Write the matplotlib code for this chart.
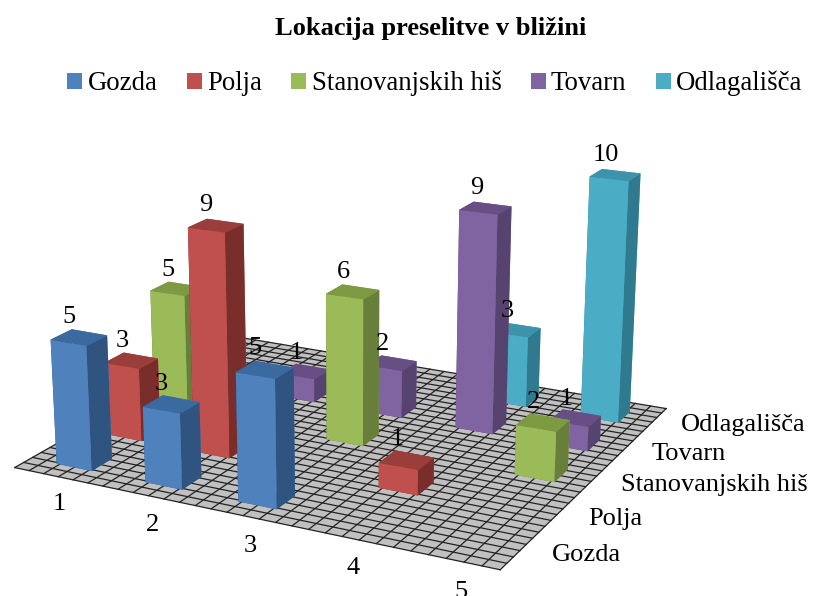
import numpy as np
import matplotlib
matplotlib.use("Agg")
import matplotlib.pyplot as plt
from matplotlib.patches import Patch

plt.rcParams['font.family'] = ['Liberation Serif', 'DejaVu Serif']

categories = ['1', '2', '3', '4', '5']
series = ['Gozda', 'Polja', 'Stanovanjskih hiš', 'Tovarn', 'Odlagališča']
gozda = [5, 3, 5, None, None]
polja = [3, 9, None, 1, None]
stanovanjskih = [5, None, 6, None, 2]
tovarn = [None, 1, 2, 9, 1]
odlagalisca = [None, None, None, 3, 10]
values = [gozda, polja, stanovanjskih, tovarn, odlagalisca]

front = ['#4F81BD', '#C0504D', '#9BBB59', '#8064A2', '#4BACC6']
side = ['#2F5480', '#7A2E2C', '#687F3B', '#57436F', '#2F7A8E']
top = ['#3A6AA0', '#9A3E3B', '#7D9A42', '#674F86', '#3C93AB']

fig = plt.figure(figsize=(8.13, 5.96), dpi=100)
ax = fig.add_axes([-0.18, -0.25, 1.2, 1.4], projection='3d')
ax.computed_zorder = False
ax.set_proj_type('persp', focal_length=0.45)
ax.view_init(elev=18, azim=-63)
ax.set_xlim(0.5, 5.5)
ax.set_ylim(0.5, 5.5)
ax.set_zlim(0, 10)
ax.set_box_aspect((1.5, 1.3, 0.75), zoom=0.85)
ax.set_axis_off()

# floor
gx = np.linspace(0.5, 5.5, 31)
gy = np.linspace(0.5, 5.5, 31)
X, Y = np.meshgrid([0.5, 5.5], [0.5, 5.5])
ax.plot_surface(X, Y, np.zeros_like(X), color='#C0C0C0', shade=False, zorder=1)
for v in gx:
    ax.plot([v, v], [0.5, 5.5], [0, 0], color='#222222', lw=0.9, zorder=2)
for v in gy:
    ax.plot([0.5, 5.5], [v, v], [0, 0], color='#222222', lw=0.9, zorder=2)

w = 0.4
z = 3
for r in range(4, -1, -1):
    for c in range(5):
        v = values[r][c]
        if v is None:
            continue
        x0 = c + 1 - w / 2
        y0 = r + 1 - w / 2
        cols = [side[r], top[r], front[r], front[r], side[r], side[r]]
        ax.bar3d(x0, y0, 0, w, w, v, color=cols, shade=False, zorder=z)
        z += 1
        ax.text(c + 1 - 0.1, r + 1, v + 0.75, str(v), fontsize=19, ha='center', va='center', zorder=50)

for i, c in enumerate(categories):
    ax.text(i + 1 + 0.38, 0.5 - 0.62, 0, c, fontsize=19, ha='center', va='center', zorder=50)
for i, s in enumerate(series):
    ax.text(5.5 + 0.28, i + 1 + 0.05, 0, s, fontsize=19, ha='left', va='center', zorder=50)

fig.text(0.53, 0.952, 'Lokacija preselitve v bližini', fontsize=19, fontweight='bold',
         ha='center', va='center')
handles = [Patch(facecolor=f, edgecolor='none', label=s) for f, s in zip(front, series)]
fig.legend(handles=handles, loc='center', bbox_to_anchor=(0.535, 0.86), ncol=5, frameon=False,
           fontsize=19.3, handlelength=0.55, handleheight=0.55, handletextpad=0.2, columnspacing=1.1)
fig.savefig('out.png', dpi=100)
